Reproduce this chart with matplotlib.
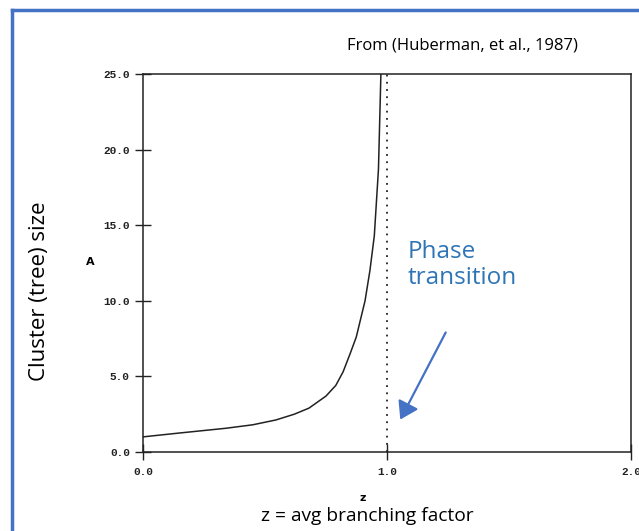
import matplotlib
matplotlib.use("Agg")
import matplotlib.pyplot as plt
from matplotlib.lines import Line2D
from matplotlib.patches import FancyArrowPatch

# Data
z_vals = [0.0, 0.14, 0.34, 0.45, 0.545, 0.62, 0.68, 0.75, 0.79, 0.82, 0.85, 0.874, 0.91, 0.93, 0.948, 0.965, 0.975]
A_vals = [1.0, 1.24, 1.57, 1.8, 2.12, 2.5, 2.9, 3.7, 4.4, 5.3, 6.55, 7.6, 10.0, 12.0, 14.3, 18.7, 25.0]
transition_z = 1.0
x_ticks = [0.0, 1.0, 2.0]
y_ticks = [0.0, 5.0, 10.0, 15.0, 20.0, 25.0]

W, H = 639, 531
fig = plt.figure(figsize=(W / 100, H / 100), dpi=100)
fig.patch.set_facecolor("white")

blue = "#4472C4"
text_blue = "#2E75B6"
ink = "#222222"

# slide border (top and left)
fig.add_artist(Line2D([12 / W, 1.0], [1 - 10 / H, 1 - 10 / H], color=blue, lw=2.5, transform=fig.transFigure))
fig.add_artist(Line2D([12 / W, 12 / W], [0.0, 1 - 10 / H], color=blue, lw=2.5, transform=fig.transFigure))

ax = fig.add_axes([143 / W, 79 / H, (631 - 143) / W, (452 - 74) / H])
ax.plot(z_vals, A_vals, color=ink, lw=1.1)
ax.axvline(transition_z, color=ink, lw=1.3, linestyle=(0, (1, 3)))
ax.set_xlim(0, 2)
ax.set_ylim(0, 25)
ax.set_xticks(x_ticks)
ax.set_yticks(y_ticks)
ax.set_xticklabels([f"{v:.1f}" for v in x_ticks])
ax.set_yticklabels([f"{v:.1f}" for v in y_ticks])
ax.tick_params(direction="inout", length=11, width=1.0, labelsize=8, colors=ink)
ax.tick_params(axis="y", pad=4)
ax.tick_params(axis="x", pad=5)
for lab in ax.get_xticklabels() + ax.get_yticklabels():
    lab.set_family("Liberation Mono")
    lab.set_fontweight("bold")
for s in ax.spines.values():
    s.set_linewidth(1.1)
    s.set_color(ink)

fig.text(90 / W, 1 - 262 / H, "A", fontsize=8, fontweight="bold", ha="center", va="center", family="DejaVu Sans")
fig.text(363 / W, 1 - 498 / H, "z", fontsize=8, fontweight="bold", ha="center", va="center", family="DejaVu Sans")

fig.text(462 / W, 1 - 46 / H, "From (Huberman, et al., 1987)", fontsize=12, ha="center", va="center", family="Open Sans")
fig.text(367 / W, 1 - 516 / H, "z = avg branching factor", fontsize=13.8, ha="center", va="center", family="Open Sans")
fig.text(40 / W, 1 - 291 / H, "Cluster (tree) size", fontsize=16, rotation=90, ha="center", va="center", family="Open Sans")
fig.text(408 / W, 1 - 265 / H, "Phase\ntransition", fontsize=17.5, color=text_blue, ha="left", va="center",
         family="Open Sans", linespacing=1.1)

fig.add_artist(FancyArrowPatch(
    (447 / W, 1 - 330 / H), (399 / W, 1 - 422 / H), transform=fig.transFigure,
    arrowstyle="-|>,head_length=7,head_width=4.5", color=blue, lw=1.6, mutation_scale=1.5))

fig.savefig("out.png", dpi=100)
